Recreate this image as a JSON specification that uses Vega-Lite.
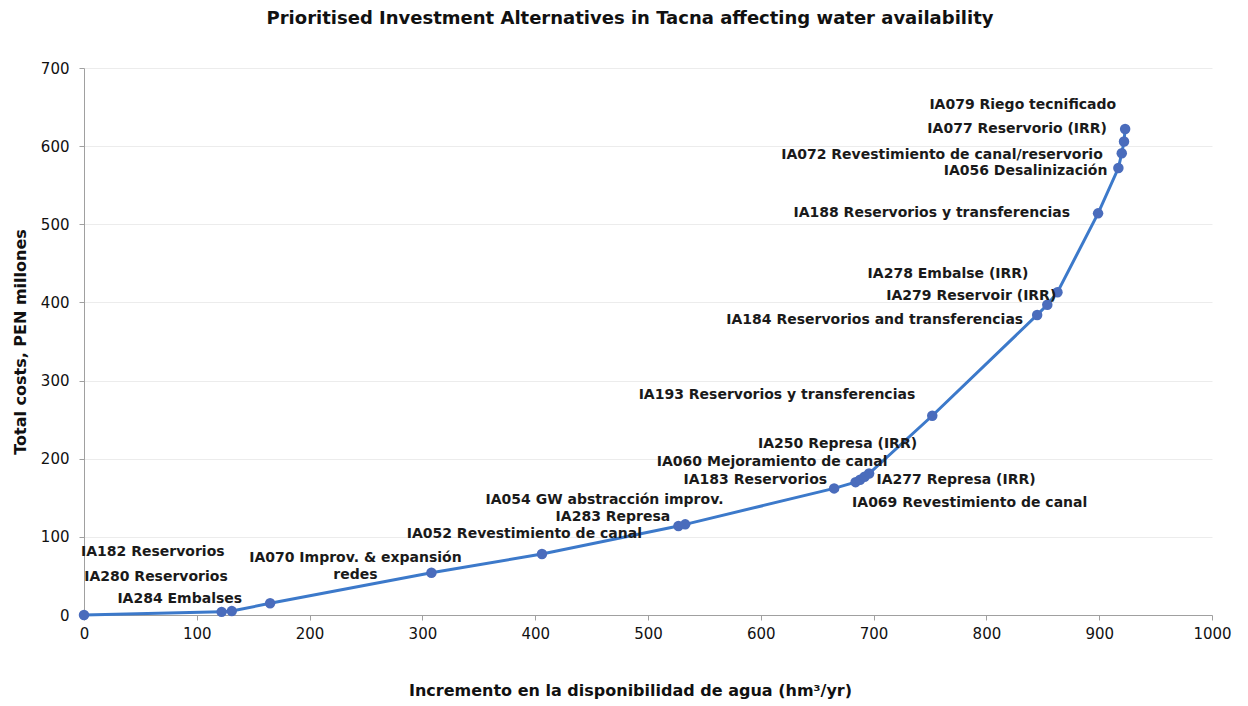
{
  "$schema": "https://vega.github.io/schema/vega-lite/v6.json",
  "autosize": "none",
  "width": 1128,
  "height": 547,
  "padding": {"left": 84, "top": 68, "right": 36, "bottom": 91},
  "background": "white",
  "config": {"font": "DejaVu Sans", "view": {"stroke": null}},
  "title": {"text": "Prioritised Investment Alternatives in Tacna  affecting water availability", "fontSize": 18, "fontWeight": "bold", "color": "#111111", "anchor": "middle", "offset": 24, "baseline": "middle", "dx": -18},
  "data": {"values": [
    {"id": "IA000", "label": "", "x": 0, "y": 0},
    {"id": "IA182", "label": "IA182 Reservorios", "x": 122, "y": 4},
    {"id": "IA280", "label": "IA280 Reservorios", "x": 131, "y": 5},
    {"id": "IA284", "label": "IA284 Embalses", "x": 165, "y": 15},
    {"id": "IA070", "label": "IA070 Improv. & expansión\nredes", "x": 308, "y": 54},
    {"id": "IA052", "label": "IA052 Revestimiento de canal", "x": 406, "y": 78},
    {"id": "IA054", "label": "IA054 GW abstracción improv.", "x": 527, "y": 114},
    {"id": "IA283", "label": "IA283 Represa", "x": 533, "y": 116},
    {"id": "IA183", "label": "IA183 Reservorios", "x": 665, "y": 162},
    {"id": "IA060", "label": "IA060 Mejoramiento de canal", "x": 684, "y": 170},
    {"id": "IA250", "label": "IA250 Represa (IRR)", "x": 688, "y": 173},
    {"id": "IA277", "label": "IA277 Represa (IRR)", "x": 692, "y": 177},
    {"id": "IA069", "label": "IA069 Revestimiento de canal", "x": 696, "y": 181},
    {"id": "IA193", "label": "IA193 Reservorios y transferencias", "x": 752, "y": 255},
    {"id": "IA184", "label": "IA184 Reservorios and transferencias", "x": 845, "y": 384},
    {"id": "IA279", "label": "IA279 Reservoir (IRR)", "x": 854, "y": 397},
    {"id": "IA278", "label": "IA278 Embalse (IRR)", "x": 863, "y": 413},
    {"id": "IA188", "label": "IA188 Reservorios y transferencias", "x": 899, "y": 514},
    {"id": "IA056", "label": "IA056 Desalinización", "x": 917, "y": 572},
    {"id": "IA072", "label": "IA072 Revestimiento de canal/reservorio", "x": 920, "y": 591},
    {"id": "IA077", "label": "IA077 Reservorio (IRR)", "x": 922, "y": 606},
    {"id": "IA079", "label": "IA079 Riego tecnificado", "x": 923, "y": 622}
  ]},
  "encoding": {
    "x": {"field": "x", "type": "quantitative", "scale": {"domain": [0, 1000], "nice": false},
      "axis": {"values": [0,100,200,300,400,500,600,700,800,900,1000], "format": "d", "labelFlush": false, "title": "Incremento  en la disponibilidad  de agua (hm³/yr)", "titleFontSize": 16, "titleFontWeight": "bold", "titleColor": "#111111", "titleX": 546, "titleY": 75, "titleBaseline": "middle", "labelFontSize": 15, "labelColor": "#111111", "labelPadding": 6, "tickSize": 5, "tickColor": "#a0a0a0", "domainColor": "#a0a0a0", "grid": false}},
    "y": {"field": "y", "type": "quantitative", "scale": {"domain": [0, 700], "nice": false},
      "axis": {"values": [0,100,200,300,400,500,600,700], "labelFlush": false, "title": "Total costs, PEN millones", "titleFontSize": 16, "titleFontWeight": "bold", "titleColor": "#111111", "titlePadding": 12, "labelFontSize": 15, "labelColor": "#111111", "labelPadding": 10, "tickSize": 5, "tickColor": "#a0a0a0", "domainColor": "#a0a0a0", "grid": true, "gridColor": "#ececec"}}
  },
  "layer": [
    {"mark": {"type": "line", "color": "#3c79ca", "strokeWidth": 3}},
    {"mark": {"type": "circle", "color": "#4a6cbc", "size": 110, "opacity": 1}},
    {"transform": [{"filter": "datum.id === 'IA182'"}], "mark": {"type": "text", "align": "right", "baseline": "middle", "dx": 3, "dy": -60, "fontSize": 14, "fontWeight": "bold", "color": "#1a1a1a"}, "encoding": {"text": {"field": "label"}}},
    {"transform": [{"filter": "datum.id === 'IA280'"}], "mark": {"type": "text", "align": "right", "baseline": "middle", "dx": -4, "dy": -34, "fontSize": 14, "fontWeight": "bold", "color": "#1a1a1a"}, "encoding": {"text": {"field": "label"}}},
    {"transform": [{"filter": "datum.id === 'IA284'"}], "mark": {"type": "text", "align": "right", "baseline": "middle", "dx": -28, "dy": -4, "fontSize": 14, "fontWeight": "bold", "color": "#1a1a1a"}, "encoding": {"text": {"field": "label"}}},
    {"transform": [{"filter": "datum.id === 'IA070'"}], "mark": {"type": "text", "align": "center", "baseline": "middle", "dx": -76, "dy": -15, "lineBreak": "\n", "lineHeight": 17, "fontSize": 14, "fontWeight": "bold", "color": "#1a1a1a"}, "encoding": {"text": {"field": "label"}}},
    {"transform": [{"filter": "datum.id === 'IA052'"}], "mark": {"type": "text", "align": "right", "baseline": "middle", "dx": 100, "dy": -20, "fontSize": 14, "fontWeight": "bold", "color": "#1a1a1a"}, "encoding": {"text": {"field": "label"}}},
    {"transform": [{"filter": "datum.id === 'IA054'"}], "mark": {"type": "text", "align": "right", "baseline": "middle", "dx": 45, "dy": -26, "fontSize": 14, "fontWeight": "bold", "color": "#1a1a1a"}, "encoding": {"text": {"field": "label"}}},
    {"transform": [{"filter": "datum.id === 'IA283'"}], "mark": {"type": "text", "align": "right", "baseline": "middle", "dx": -15, "dy": -7, "fontSize": 14, "fontWeight": "bold", "color": "#1a1a1a"}, "encoding": {"text": {"field": "label"}}},
    {"transform": [{"filter": "datum.id === 'IA183'"}], "mark": {"type": "text", "align": "right", "baseline": "middle", "dx": -7, "dy": -8, "fontSize": 14, "fontWeight": "bold", "color": "#1a1a1a"}, "encoding": {"text": {"field": "label"}}},
    {"transform": [{"filter": "datum.id === 'IA060'"}], "mark": {"type": "text", "align": "right", "baseline": "middle", "dx": 32, "dy": -20, "fontSize": 14, "fontWeight": "bold", "color": "#1a1a1a"}, "encoding": {"text": {"field": "label"}}},
    {"transform": [{"filter": "datum.id === 'IA250'"}], "mark": {"type": "text", "align": "right", "baseline": "middle", "dx": 57, "dy": -36, "fontSize": 14, "fontWeight": "bold", "color": "#1a1a1a"}, "encoding": {"text": {"field": "label"}}},
    {"transform": [{"filter": "datum.id === 'IA277'"}], "mark": {"type": "text", "align": "left", "baseline": "middle", "dx": 12, "dy": 3, "fontSize": 14, "fontWeight": "bold", "color": "#1a1a1a"}, "encoding": {"text": {"field": "label"}}},
    {"transform": [{"filter": "datum.id === 'IA069'"}], "mark": {"type": "text", "align": "left", "baseline": "middle", "dx": -17, "dy": 29, "fontSize": 14, "fontWeight": "bold", "color": "#1a1a1a"}, "encoding": {"text": {"field": "label"}}},
    {"transform": [{"filter": "datum.id === 'IA193'"}], "mark": {"type": "text", "align": "right", "baseline": "middle", "dx": -17, "dy": -21, "fontSize": 14, "fontWeight": "bold", "color": "#1a1a1a"}, "encoding": {"text": {"field": "label"}}},
    {"transform": [{"filter": "datum.id === 'IA184'"}], "mark": {"type": "text", "align": "right", "baseline": "middle", "dx": -14, "dy": 5, "fontSize": 14, "fontWeight": "bold", "color": "#1a1a1a"}, "encoding": {"text": {"field": "label"}}},
    {"transform": [{"filter": "datum.id === 'IA279'"}], "mark": {"type": "text", "align": "right", "baseline": "middle", "dx": 9, "dy": -9, "fontSize": 14, "fontWeight": "bold", "color": "#1a1a1a"}, "encoding": {"text": {"field": "label"}}},
    {"transform": [{"filter": "datum.id === 'IA278'"}], "mark": {"type": "text", "align": "right", "baseline": "middle", "dx": -29, "dy": -18, "fontSize": 14, "fontWeight": "bold", "color": "#1a1a1a"}, "encoding": {"text": {"field": "label"}}},
    {"transform": [{"filter": "datum.id === 'IA188'"}], "mark": {"type": "text", "align": "right", "baseline": "middle", "dx": -28, "dy": 0, "fontSize": 14, "fontWeight": "bold", "color": "#1a1a1a"}, "encoding": {"text": {"field": "label"}}},
    {"transform": [{"filter": "datum.id === 'IA056'"}], "mark": {"type": "text", "align": "right", "baseline": "middle", "dx": -11, "dy": 3, "fontSize": 14, "fontWeight": "bold", "color": "#1a1a1a"}, "encoding": {"text": {"field": "label"}}},
    {"transform": [{"filter": "datum.id === 'IA072'"}], "mark": {"type": "text", "align": "right", "baseline": "middle", "dx": -19, "dy": 2, "fontSize": 14, "fontWeight": "bold", "color": "#1a1a1a"}, "encoding": {"text": {"field": "label"}}},
    {"transform": [{"filter": "datum.id === 'IA077'"}], "mark": {"type": "text", "align": "right", "baseline": "middle", "dx": -17, "dy": -12, "fontSize": 14, "fontWeight": "bold", "color": "#1a1a1a"}, "encoding": {"text": {"field": "label"}}},
    {"transform": [{"filter": "datum.id === 'IA079'"}], "mark": {"type": "text", "align": "right", "baseline": "middle", "dx": -9, "dy": -24, "fontSize": 14, "fontWeight": "bold", "color": "#1a1a1a"}, "encoding": {"text": {"field": "label"}}}
  ]
}
